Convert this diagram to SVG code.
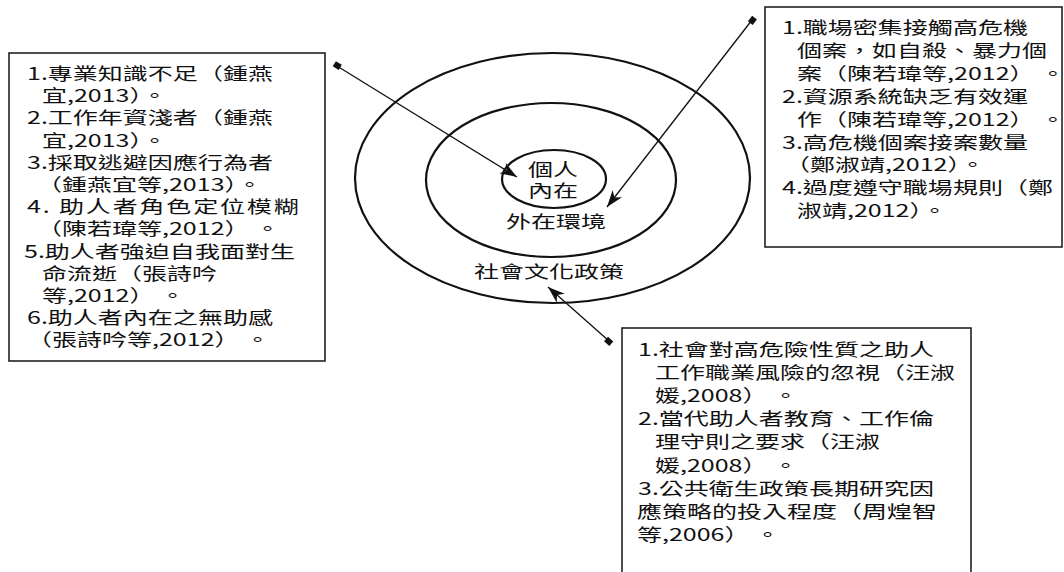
<svg xmlns="http://www.w3.org/2000/svg" width="1064" height="572" viewBox="0 0 1064 572">
<defs>
<style>
.t{font-family:"Noto Sans CJK TC","Noto Sans CJK SC",sans-serif;font-size:17.5px;fill:#111;}
.c{text-anchor:middle;}
.box{fill:#fff;stroke:#222;stroke-width:1.6;}
.ring{fill:none;stroke:#111;stroke-width:2.2;}
.ln{stroke:#111;stroke-width:1.3;fill:none;marker-start:url(#sq);marker-end:url(#ah);}
</style>
<marker id="ah" markerUnits="userSpaceOnUse" markerWidth="20" markerHeight="14" refX="17" refY="6" orient="auto">
<path d="M0,0 L17,6 L0,12 L5,6 z" fill="#111"/>
</marker>
<marker id="sq" markerUnits="userSpaceOnUse" markerWidth="10" markerHeight="10" refX="4" refY="4" orient="auto">
<rect x="0.5" y="0.5" width="7" height="6" fill="#111"/>
</marker>
</defs>
<rect width="1064" height="572" fill="#fff"/>

<g id="rings">
<ellipse class="ring" cx="552.5" cy="178" rx="197.5" ry="125"/>
<ellipse class="ring" cx="551" cy="180" rx="125" ry="77"/>
<ellipse class="ring" cx="554" cy="179" rx="52" ry="29"/>
<text class="t c" transform="matrix(1.43 0 0 1 553 176)">個人</text>
<text class="t c" transform="matrix(1.43 0 0 1 553 197)">內在</text>
<text class="t c" transform="matrix(1.43 0 0 1 556 228)">外在環境</text>
<text class="t c" transform="matrix(1.43 0 0 1 549 278)">社會文化政策</text>
</g>

<g id="box-individual">
<rect class="box" x="9" y="53" width="316" height="308"/>
<text class="t" transform="matrix(1.43 0 0 1 27 80)">1.專業知識不足（鍾燕</text>
<text class="t" transform="matrix(1.43 0 0 1 42 102.2)">宜,2013）。</text>
<text class="t" transform="matrix(1.43 0 0 1 27 124.4)">2.工作年資淺者（鍾燕</text>
<text class="t" transform="matrix(1.43 0 0 1 42 146.6)">宜,2013）。</text>
<text class="t" transform="matrix(1.43 0 0 1 27 168.8)">3.採取逃避因應行為者</text>
<text class="t" transform="matrix(1.43 0 0 1 37 191)">（鍾燕宜等,2013）。</text>
<text class="t" transform="matrix(1.43 0 0 1 27 213.2)" textLength="190" lengthAdjust="spacing">4. 助人者角色定位模糊</text>
<text class="t" transform="matrix(1.43 0 0 1 37 235.4)">（陳若瑋等,2012） 。</text>
<text class="t" transform="matrix(1.43 0 0 1 24 257.6)">5.助人者強迫自我面對生</text>
<text class="t" transform="matrix(1.43 0 0 1 42 279.8)">命流逝（張詩吟</text>
<text class="t" transform="matrix(1.43 0 0 1 42 302)">等,2012） 。</text>
<text class="t" transform="matrix(1.43 0 0 1 27 324.2)">6.助人者內在之無助感</text>
<text class="t" transform="matrix(1.43 0 0 1 27 346.4)">（張詩吟等,2012） 。</text>
</g>

<g id="box-environment">
<rect class="box" x="765" y="7" width="297" height="240"/>
<text class="t" transform="matrix(1.43 0 0 1 782 34)">1.職場密集接觸高危機</text>
<text class="t" transform="matrix(1.43 0 0 1 797 56.9)">個案，如自殺、暴力個</text>
<text class="t" transform="matrix(1.43 0 0 1 797 79.8)">案（陳若瑋等,2012） 。</text>
<text class="t" transform="matrix(1.43 0 0 1 782 102.7)">2.資源系統缺乏有效運</text>
<text class="t" transform="matrix(1.43 0 0 1 797 125.6)">作（陳若瑋等,2012） 。</text>
<text class="t" transform="matrix(1.43 0 0 1 782 148.5)">3.高危機個案接案數量</text>
<text class="t" transform="matrix(1.43 0 0 1 785 171.4)">（鄭淑靖,2012）。</text>
<text class="t" transform="matrix(1.43 0 0 1 782 194.3)">4.過度遵守職場規則（鄭</text>
<text class="t" transform="matrix(1.43 0 0 1 797 217.2)">淑靖,2012）。</text>
</g>

<g id="box-society">
<rect class="box" x="622" y="328" width="349" height="250"/>
<text class="t" transform="matrix(1.43 0 0 1 638 356)">1.社會對高危險性質之助人</text>
<text class="t" transform="matrix(1.43 0 0 1 655 379.1)">工作職業風險的忽視（汪淑</text>
<text class="t" transform="matrix(1.43 0 0 1 655 402.2)">媛,2008） 。</text>
<text class="t" transform="matrix(1.43 0 0 1 638 425.3)">2.當代助人者教育、工作倫</text>
<text class="t" transform="matrix(1.43 0 0 1 655 448.4)">理守則之要求（汪淑</text>
<text class="t" transform="matrix(1.43 0 0 1 655 471.5)">媛,2008） 。</text>
<text class="t" transform="matrix(1.43 0 0 1 638 494.6)">3.公共衛生政策長期研究因</text>
<text class="t" transform="matrix(1.43 0 0 1 637 517.7)">應策略的投入程度（周煌智</text>
<text class="t" transform="matrix(1.43 0 0 1 637 540.8)">等,2006） 。</text>
</g>

<g id="connectors">
<line class="ln" x1="337" y1="66" x2="517" y2="177"/>
<line class="ln" x1="752" y1="20" x2="607" y2="207"/>
<line class="ln" x1="609" y1="341" x2="548" y2="287"/>
</g>
</svg>
